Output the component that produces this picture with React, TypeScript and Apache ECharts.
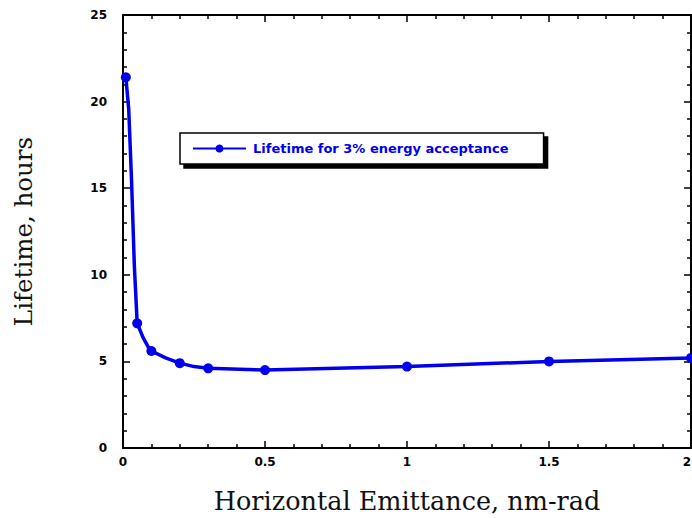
import React, { useEffect, useRef } from "react";
import * as echarts from "echarts";

const emittance = [0.01, 0.02, 0.03, 0.04, 0.05, 0.06, 0.07, 0.08, 0.09, 0.1, 0.15, 0.2, 0.25, 0.3, 0.5, 1, 1.5, 2];
const lifetime = [21.4, 19.6, 15.5, 10.5, 7.2, 6.8, 6.4, 6.1, 5.8, 5.6, 5.2, 4.9, 4.7, 4.6, 4.5, 4.7, 5.0, 5.2];
const markedEmittance = [0.01, 0.05, 0.1, 0.2, 0.3, 0.5, 1, 1.5, 2];
const seriesName = "Lifetime for 3% energy acceptance";
const xTitle = "Horizontal Emittance, nm-rad";
const yTitle = "Lifetime, hours";

export default function App() {
  const ref = useRef<HTMLDivElement>(null);
  useEffect(() => {
    if (!ref.current) return;
    const chart = echarts.init(ref.current, null, { renderer: "svg" });
    const data = emittance.map((x, i) => {
      const marked = markedEmittance.includes(x);
      return marked ? [x, lifetime[i]] : { value: [x, lifetime[i]], symbol: "none" };
    });
    const tickLabel = {
      color: "#000",
      fontWeight: "bold" as const,
      fontSize: 12,
      fontFamily: "DejaVu Sans",
    };
    const axisLine = { show: true, onZero: false, lineStyle: { color: "#000", width: 2 } };
    const axisTick = { show: true, inside: true, length: 7, lineStyle: { color: "#000", width: 1.5 } };
    const minorTick = { show: true, splitNumber: 5, length: 4, lineStyle: { color: "#000", width: 1.5 } };
    const xBase = {
      type: "value" as const,
      min: 0,
      max: 2,
      interval: 0.5,
      axisLine,
      axisTick,
      minorTick,
      splitLine: { show: false },
    };
    const yBase = {
      type: "value" as const,
      min: 0,
      max: 25,
      interval: 5,
      axisLine,
      axisTick,
      minorTick,
      splitLine: { show: false },
    };
    chart.setOption({
      animation: false,
      backgroundColor: "#fff",
      grid: { left: 123, top: 15, right: 1, bottom: 70, containLabel: false, outerBoundsMode: "none" },
      legend: {
        show: true,
        left: 180,
        top: 133,
        padding: [9, 35, 9, 12],
        itemWidth: 53,
        itemHeight: 10,
        itemGap: 5,
        backgroundColor: "#fff",
        borderColor: "#000",
        borderWidth: 1.5,
        borderRadius: 0,
        shadowColor: "#000",
        shadowBlur: 0,
        shadowOffsetX: 4,
        shadowOffsetY: 4,
        textStyle: { color: "#0000ee", fontSize: 13, fontWeight: "bold", fontFamily: "DejaVu Sans", padding: [0, 0, 0, 2] },
        data: [seriesName],
      },
      xAxis: [
        {
          ...xBase,
          position: "bottom",
          axisLabel: { ...tickLabel, margin: 8, alignMaxLabel: "right", formatter: (v: number) => String(v) },
          name: xTitle,
          nameLocation: "middle",
          nameGap: 40,
          nameTextStyle: { color: "#111", fontSize: 25.5, fontFamily: "DejaVu Serif" },
        },
        {
          ...xBase,
          position: "top",
          axisLabel: { show: false },
        },
      ],
      yAxis: [
        {
          ...yBase,
          position: "left",
          axisLabel: { ...tickLabel, margin: 16 },
          name: yTitle,
          nameLocation: "middle",
          nameGap: 87,
          nameTextStyle: { color: "#111", fontSize: 24.5, fontFamily: "DejaVu Serif" },
        },
        {
          ...yBase,
          position: "right",
          axisLabel: { show: false },
        },
      ],
      series: [
        {
          name: seriesName,
          type: "line",
          xAxisIndex: 0,
          yAxisIndex: 0,
          data,
          symbol: "circle",
          symbolSize: 10,
          showSymbol: true,
          lineStyle: { color: "#0000ee", width: 3.5 },
          itemStyle: { color: "#0000ee" },
        },
      ],
    });
    return () => chart.dispose();
  }, []);
  return <div ref={ref} style={{ width: 692, height: 518, position: "absolute", left: 0, top: 0 }} />;
}
